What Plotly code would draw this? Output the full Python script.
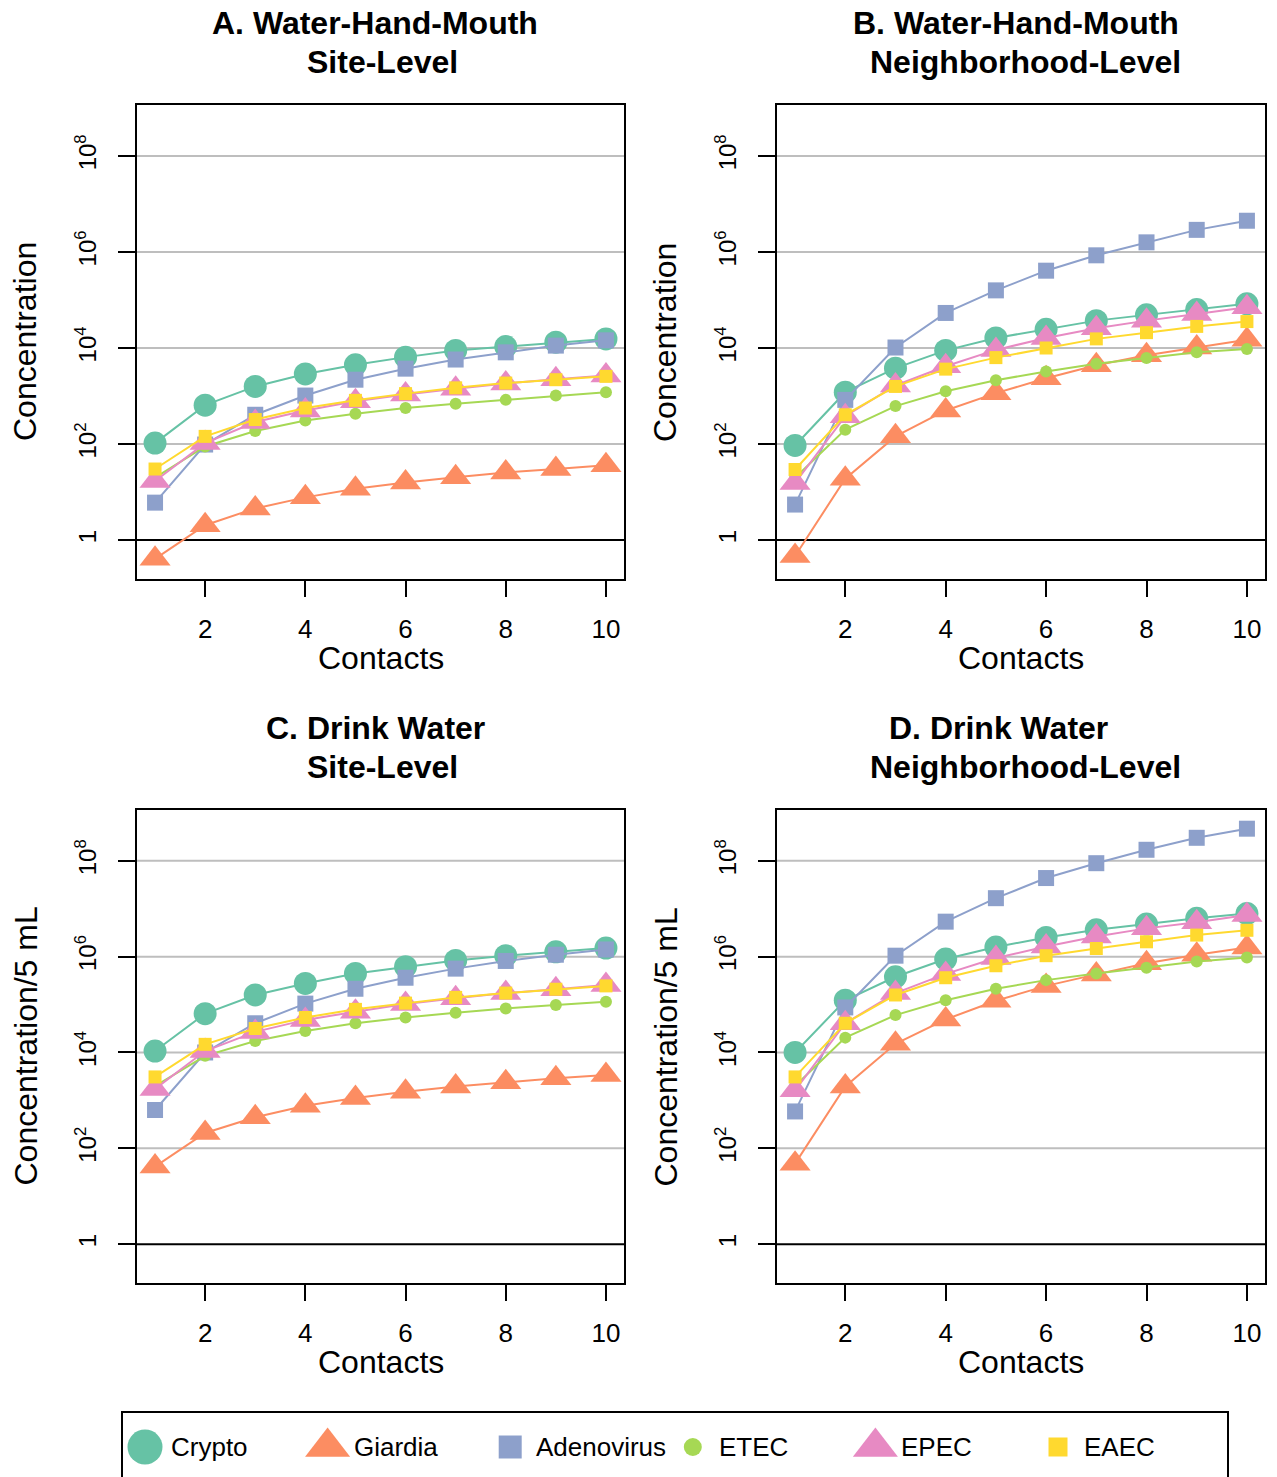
import plotly.graph_objects as go

W, H = 1277, 1477

contacts = [1, 2, 3, 4, 5, 6, 7, 8, 9, 10]
pathogens = ["Crypto", "Giardia", "Adenovirus", "ETEC", "EPEC", "EAEC"]
colors = ["#66C2A5", "#FC8D62", "#8DA0CB", "#A6D854", "#E78AC3", "#FFD92F"]
symbols = ["circle", "triangle-up", "square", "circle", "triangle-up", "square"]
msizes = [23, 27, 16, 12, 27, 13]
legend_msizes = [35, 39, 23, 18, 39, 19]

# log10 concentration
A_crypto = [2.02, 2.81, 3.20, 3.46, 3.65, 3.81, 3.95, 4.03, 4.12, 4.19]
A_giardia = [-0.39, 0.31, 0.66, 0.89, 1.07, 1.20, 1.31, 1.41, 1.48, 1.56]
A_adeno = [0.78, 1.99, 2.61, 3.01, 3.34, 3.57, 3.76, 3.91, 4.05, 4.16]
A_etec = [1.30, 1.95, 2.27, 2.49, 2.63, 2.75, 2.84, 2.92, 3.01, 3.08]
A_epec = [1.23, 2.02, 2.46, 2.70, 2.89, 3.03, 3.15, 3.26, 3.35, 3.43]
A_eaec = [1.48, 2.16, 2.51, 2.75, 2.91, 3.05, 3.17, 3.27, 3.34, 3.41]

B_crypto = [1.97, 3.08, 3.58, 3.95, 4.21, 4.39, 4.57, 4.69, 4.80, 4.92]
B_giardia = [-0.33, 1.28, 2.16, 2.70, 3.06, 3.37, 3.64, 3.85, 4.01, 4.17]
B_adeno = [0.74, 2.92, 4.01, 4.73, 5.20, 5.61, 5.93, 6.20, 6.46, 6.65]
B_etec = [1.30, 2.30, 2.79, 3.10, 3.33, 3.51, 3.67, 3.79, 3.91, 3.98]
B_epec = [1.19, 2.58, 3.22, 3.62, 3.96, 4.21, 4.41, 4.57, 4.71, 4.85]
B_eaec = [1.47, 2.61, 3.20, 3.56, 3.80, 4.00, 4.19, 4.32, 4.45, 4.55]

C_crypto = [4.03, 4.81, 5.20, 5.44, 5.65, 5.79, 5.92, 6.02, 6.10, 6.18]
C_giardia = [1.62, 2.32, 2.65, 2.89, 3.05, 3.18, 3.29, 3.38, 3.46, 3.53]
C_adeno = [2.80, 4.00, 4.61, 5.02, 5.33, 5.56, 5.75, 5.91, 6.04, 6.15]
C_etec = [3.30, 3.93, 4.24, 4.45, 4.61, 4.73, 4.83, 4.92, 4.99, 5.06]
C_epec = [3.24, 4.03, 4.43, 4.68, 4.85, 5.01, 5.13, 5.24, 5.32, 5.41]
C_eaec = [3.49, 4.17, 4.50, 4.73, 4.90, 5.03, 5.15, 5.24, 5.32, 5.39]

D_crypto = [4.00, 5.09, 5.58, 5.95, 6.20, 6.40, 6.56, 6.68, 6.80, 6.90]
D_giardia = [1.68, 3.29, 4.18, 4.69, 5.08, 5.39, 5.63, 5.86, 6.04, 6.19]
D_adeno = [2.77, 4.94, 6.02, 6.73, 7.22, 7.64, 7.95, 8.23, 8.48, 8.67]
D_etec = [3.30, 4.31, 4.78, 5.09, 5.33, 5.51, 5.65, 5.77, 5.90, 5.98]
D_epec = [3.21, 4.61, 5.24, 5.64, 5.97, 6.21, 6.42, 6.59, 6.72, 6.87]
D_eaec = [3.49, 4.61, 5.20, 5.56, 5.81, 6.02, 6.17, 6.31, 6.45, 6.55]

xtick_vals = [2, 4, 6, 8, 10]
ytick_vals = [1, 1e2, 1e4, 1e6, 1e8]
ytick_text = ["1", "10<sup>2</sup>", "10<sup>4</sup>", "10<sup>6</sup>", "10<sup>8</sup>"]

panels = [
    dict(title1="A. Water-Hand-Mouth", title2="Site-Level", ytitle="Concentration",
         series=[A_crypto, A_giardia, A_adeno, A_etec, A_epec, A_eaec],
         box=(137, 624, 105, 579), t1x=375, t2x=383),
    dict(title1="B. Water-Hand-Mouth", title2="Neighborhood-Level", ytitle="Concentration",
         series=[B_crypto, B_giardia, B_adeno, B_etec, B_epec, B_eaec],
         box=(777, 1265, 105, 579), t1x=1016, t2x=1025),
    dict(title1="C. Drink Water", title2="Site-Level", ytitle="Concentration/5 mL",
         series=[C_crypto, C_giardia, C_adeno, C_etec, C_epec, C_eaec],
         box=(137, 624, 810, 1283), t1x=376, t2x=383),
    dict(title1="D. Drink Water", title2="Neighborhood-Level", ytitle="Concentration/5 mL",
         series=[D_crypto, D_giardia, D_adeno, D_etec, D_epec, D_eaec],
         box=(777, 1265, 810, 1283), t1x=998, t2x=1025),
]

FONT = "Liberation Sans, Arial, sans-serif"

def fx(p):
    return p / W

def fy(p):
    return 1 - p / H

fig = go.Figure()
layout = dict(width=W, height=H, margin=dict(l=0, r=0, t=0, b=0),
              paper_bgcolor="white", plot_bgcolor="white", showlegend=False,
              font=dict(family=FONT, color="black"))
annotations = []
shapes = []

for k, p in enumerate(panels):
    idx = "" if k == 0 else str(k + 1)
    xa, ya = "x" + idx, "y" + idx
    x0, x1, y0, y1 = p["box"]
    for j, name in enumerate(pathogens):
        fig.add_trace(go.Scatter(
            x=contacts, y=[10 ** v for v in p["series"][j]], mode="lines+markers",
            name=name, xaxis=xa, yaxis=ya,
            line=dict(color=colors[j], width=2),
            marker=dict(symbol=symbols[j], size=msizes[j], color=colors[j], line=dict(width=0)),
        ))
    layout["xaxis" + idx] = dict(
        domain=[fx(x0), fx(x1)], anchor=ya, range=[0.64, 10.36],
        tickvals=xtick_vals, ticks="outside", ticklen=16, tickwidth=2, tickcolor="black",
        showline=True, linecolor="black", linewidth=2, mirror=True,
        showgrid=False, zeroline=False, tickfont=dict(size=26, family=FONT),
        ticklabelstandoff=10,
    )
    layout["yaxis" + idx] = dict(
        domain=[fy(y1), fy(y0)], anchor=xa, type="log", range=[-0.81, 9.06],
        tickvals=ytick_vals, ticktext=ytick_text, tickangle=-90,
        ticks="outside", ticklen=17, tickwidth=2, tickcolor="black",
        showline=True, linecolor="black", linewidth=2, mirror=True,
        showgrid=False, zeroline=False, tickfont=dict(size=24, family=FONT),
        ticklabelstandoff=12,
    )
    for v in ytick_vals:
        shapes.append(dict(type="line", xref=xa + " domain", yref=ya, x0=0, x1=1, y0=v, y1=v,
                           line=dict(color="black" if v == 1 else "#BEBEBE", width=2),
                           layer="below"))
    cx = (x0 + x1) / 2
    cy = (y0 + y1) / 2
    annotations.append(dict(text="<b>" + p["title1"] + "</b>", xref="paper", yref="paper",
                            x=fx(p["t1x"]), y=fy(y0 - 82), xanchor="center", yanchor="middle",
                            showarrow=False, font=dict(size=32, family=FONT)))
    annotations.append(dict(text="<b>" + p["title2"] + "</b>", xref="paper", yref="paper",
                            x=fx(p["t2x"]), y=fy(y0 - 43), xanchor="center", yanchor="middle",
                            showarrow=False, font=dict(size=32, family=FONT)))
    annotations.append(dict(text="Contacts", xref="paper", yref="paper",
                            x=fx(cx), y=fy(y1 + 79), xanchor="center", yanchor="middle",
                            showarrow=False, font=dict(size=32, family=FONT)))
    annotations.append(dict(text=p["ytitle"], xref="paper", yref="paper", textangle=-90,
                            x=fx(x0 - 112), y=fy(cy), xanchor="center", yanchor="middle",
                            showarrow=False, font=dict(size=32, family=FONT)))

# custom legend
LX0, LX1, LY0 = 122, 1228, 1412
layout["xaxis5"] = dict(domain=[fx(LX0), fx(LX1)], anchor="y5", range=[0, LX1 - LX0],
                        visible=False, fixedrange=True)
layout["yaxis5"] = dict(domain=[0, fy(LY0)], anchor="x5", range=[0, H - LY0],
                        visible=False, fixedrange=True)
step = 182.6
for j, name in enumerate(pathogens):
    fig.add_trace(go.Scatter(
        x=[23 + j * step], y=[30], mode="markers", xaxis="x5", yaxis="y5",
        marker=dict(symbol=symbols[j], size=legend_msizes[j], color=colors[j], line=dict(width=0)),
        hoverinfo="skip",
    ))
    annotations.append(dict(text=name, xref="x5", yref="y5", x=47 + j * step, y=30,
                            xanchor="left", yanchor="middle", showarrow=False,
                            font=dict(size=26, family=FONT)))
shapes.append(dict(type="rect", xref="paper", yref="paper", x0=fx(LX0), x1=fx(LX1),
                   y0=-0.02, y1=fy(LY0), line=dict(color="black", width=2)))

layout["annotations"] = annotations
layout["shapes"] = shapes
fig.update_layout(**layout)
fig.write_html("out.html", config={"displayModeBar": False},
               post_script="document.body.style.margin='0';document.body.style.padding='0';")
